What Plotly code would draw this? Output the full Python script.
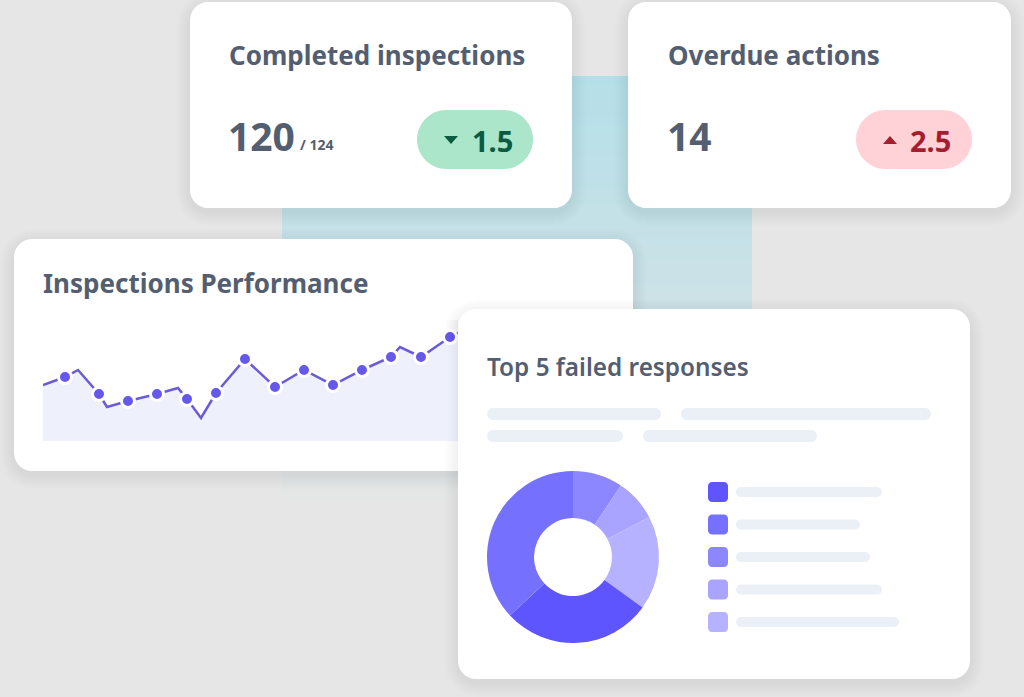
import plotly.graph_objects as go

# line chart (height above the baseline of the area)
perf_x = [43, 65, 78, 99, 107, 128, 157, 178, 187, 201, 216, 245, 275, 304, 333, 362, 391, 400, 421, 450, 458]
perf_y = [56, 64, 71, 47, 34, 40, 47, 53, 42, 23, 48, 82, 54, 71, 56, 71, 84, 94, 84, 104, 108]
dot_x = [65, 99, 128, 157, 187, 216, 245, 275, 304, 333, 362, 391, 421, 450]
dot_y = [64, 47, 40, 47, 42, 48, 82, 54, 71, 56, 71, 84, 84, 104]

# donut, clockwise from twelve o'clock
donut_labels = ["Response 3", "Response 4", "Response 5", "Response 1", "Response 2"]
donut_values = [9.4, 7.9, 17.7, 28.1, 36.9]
donut_colors = ["#8d87ff", "#a9a4ff", "#b6b2ff", "#5f55ff", "#7670ff"]

legend_colors = ["#5f55ff", "#7670ff", "#8d87ff", "#a9a4ff", "#b6b2ff"]
legend_tops = [482, 514.5, 547, 579.5, 612]
legend_ends = [882, 860, 870, 882, 899]

W, H = 1024, 697
BG = "#e6e6e6"
TEXT = "#535e70"
PILL = "#ebeff6"


def rrect(x0, y0, x1, y1, r, fill, opacity=1, layer="below"):
    k = r * 0.45  # distance of the control point from the corner
    path = (f"M{x0+r},{y0} L{x1-r},{y0} C{x1-k},{y0} {x1},{y0+k} {x1},{y0+r} "
            f"L{x1},{y1-r} C{x1},{y1-k} {x1-k},{y1} {x1-r},{y1} "
            f"L{x0+r},{y1} C{x0+k},{y1} {x0},{y1-k} {x0},{y1-r} "
            f"L{x0},{y0+r} C{x0},{y0+k} {x0+k},{y0} {x0+r},{y0} Z")
    return dict(type="path", path=path, xref="x", yref="y", fillcolor=fill, opacity=opacity,
                line=dict(width=0), layer=layer)


def card(x0, y0, x1, y1, r=18):
    out = []
    # soft shadow, stacked outlines
    for i in range(1, 15):
        out.append(rrect(x0 - i, y0 - i + 4, x1 + i, y1 + i + 4, r + i, "#000000", 0.005))
    out.append(rrect(x0, y0, x1, y1, r, "#ffffff"))
    return out


def text(x, y, s, size, color=TEXT, weight=700, anchor="left"):
    return dict(x=x, y=y, xref="x", yref="y", text=s, showarrow=False, xanchor=anchor, yanchor="middle",
                font=dict(family="Noto Sans", size=size, color=color, weight=weight))


shapes = [dict(type="rect", x0=0, x1=W, y0=0, y1=H, xref="x", yref="y", fillcolor=BG,
               line=dict(width=0), layer="below")]

# teal block behind the cards, fading out towards the bottom
stops = [(76, (181, 223, 232)), (300, (205, 226, 231)), (500, (230, 230, 230))]
for (ya, ca), (yb, cb) in zip(stops, stops[1:]):
    for y0 in range(ya, yb, 8):
        t = (y0 - ya) / (yb - ya)
        col = [round(a + (b - a) * t) for a, b in zip(ca, cb)]
        shapes.append(dict(type="rect", x0=282, x1=752, y0=y0, y1=y0 + 8, xref="x", yref="y",
                           fillcolor=f"rgb({col[0]},{col[1]},{col[2]})", line=dict(width=0), layer="below"))

shapes += card(190, 2, 572, 208)
shapes += card(628, 2, 1011, 208)
shapes += card(14, 239, 633, 471)
shapes += card(458, 309, 970, 679)

# shadow of the front card falling on the area chart
for i in range(1, 12):
    shapes.append(dict(type="rect", x0=458 - i, x1=458, y0=320, y1=441, xref="x", yref="y",
                       fillcolor="#000000", opacity=0.005, line=dict(width=0), layer="above"))

# change badges
shapes.append(rrect(417, 110, 533, 169, 29.5, "#abe5ca"))
shapes.append(rrect(856, 110, 972, 169, 29.5, "#ffd2d8"))
shapes.append(dict(type="path", path="M444,136 L458,136 L451,144 Z", xref="x", yref="y",
                   fillcolor="#0b5a41", line=dict(width=0), layer="below"))
shapes.append(dict(type="path", path="M883,144 L897,144 L890,136 Z", xref="x", yref="y",
                   fillcolor="#a31f30", line=dict(width=0), layer="below"))

# placeholder text lines
for x0, x1, y0 in [(487, 661, 408), (681, 931, 408), (487, 623, 430), (643, 817, 430)]:
    shapes.append(rrect(x0, y0, x1, y0 + 12, 6, PILL))
for c, y0, x1 in zip(legend_colors, legend_tops, legend_ends):
    shapes.append(rrect(708, y0, 728, y0 + 20, 4, c))
    shapes.append(rrect(736, y0 + 5, x1, y0 + 15, 5, PILL))

fig = go.Figure()

# invisible trace so the pixel axes exist
fig.add_trace(go.Scatter(x=[0, W], y=[0, H], mode="markers", marker=dict(opacity=0), hoverinfo="skip",
                         xaxis="x", yaxis="y", showlegend=False))

fig.add_trace(go.Scatter(x=perf_x, y=perf_y, mode="lines", fill="tozeroy", fillcolor="#eef0fb",
                         line=dict(color="#6a5bd9", width=2.5), xaxis="x2", yaxis="y2",
                         name="Inspections", showlegend=False))
fig.add_trace(go.Scatter(x=dot_x, y=dot_y, mode="markers",
                         marker=dict(color="#6658ea", size=13, line=dict(color="#ffffff", width=3)),
                         xaxis="x2", yaxis="y2", name="Inspections", showlegend=False))

fig.add_trace(go.Pie(labels=donut_labels, values=donut_values, hole=0.453, sort=False, direction="clockwise",
                     rotation=0, marker=dict(colors=donut_colors, line=dict(width=0)), textinfo="none",
                     domain=dict(x=[487 / W, 659 / W], y=[1 - 643 / H, 1 - 471 / H]), showlegend=False))

annotations = [
    text(227, 55, "Completed inspections", 26),
    text(666, 55, "Overdue actions", 26),
    text(41, 283, "Inspections Performance", 26),
    text(485, 366, "Top 5 failed responses", 24.3, weight=600),
    text(226, 135, "120", 39),
    text(298, 144, "/ 124", 14),
    text(665, 135, "14", 39),
    text(470, 140, "1.5", 29, color="#0b5a41"),
    text(908, 140, "2.5", 29, color="#a31f30"),
]

hidden = dict(visible=False, fixedrange=True)
fig.update_layout(
    width=W, height=H, margin=dict(l=0, r=0, t=0, b=0), paper_bgcolor=BG, plot_bgcolor="rgba(0,0,0,0)",
    showlegend=False, shapes=shapes, annotations=annotations,
    xaxis=dict(range=[0, W], domain=[0, 1], **hidden),
    yaxis=dict(range=[H, 0], domain=[0, 1], **hidden),
    xaxis2=dict(range=[43, 458], domain=[43 / W, 458 / W], anchor="y2", **hidden),
    yaxis2=dict(range=[0, 121], domain=[1 - 441 / H, 1 - 320 / H], anchor="x2", **hidden),
)

fig.write_html("out.html", config=dict(displayModeBar=False),
               post_script="document.body.style.margin='0';document.body.style.overflow='hidden';")
